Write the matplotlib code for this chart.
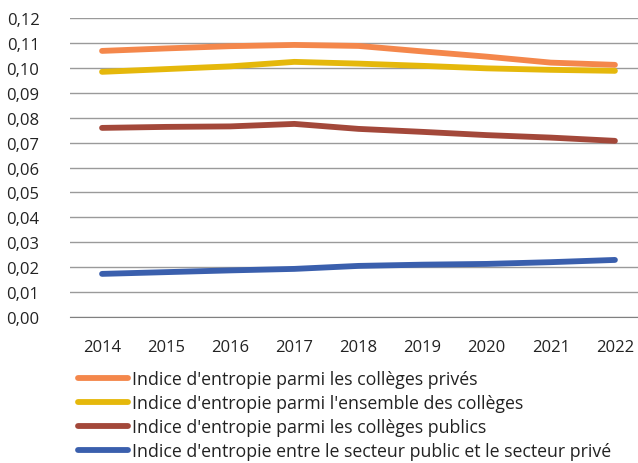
import matplotlib
matplotlib.use("Agg")
import matplotlib.pyplot as plt
from matplotlib.ticker import FuncFormatter

plt.rcParams['font.family'] = ['Open Sans', 'DejaVu Sans']

annees = [2014, 2015, 2016, 2017, 2018, 2019, 2020, 2021, 2022]
prives = [0.1068, 0.1078, 0.1087, 0.1092, 0.1088, 0.1066, 0.1045, 0.1021, 0.1012]
ensemble = [0.0984, 0.0995, 0.1006, 0.1024, 0.1017, 0.1008, 0.0998, 0.0992, 0.0988]
publics = [0.0759, 0.0763, 0.0765, 0.0775, 0.0755, 0.0743, 0.0730, 0.0720, 0.0707]
public_prive = [0.0173, 0.0180, 0.0187, 0.0193, 0.0205, 0.0210, 0.0213, 0.0220, 0.0229]

labels = ["Indice d'entropie parmi les collèges privés",
          "Indice d'entropie parmi l'ensemble des collèges",
          "Indice d'entropie parmi les collèges publics",
          "Indice d'entropie entre le secteur public et le secteur privé"]
couleurs = ["#F4874B", "#E5B80B", "#A3483A", "#3A5FAD"]

fig = plt.figure(figsize=(6.38, 4.64), dpi=100)
ax = fig.add_axes([0.1097, 0.3147, 0.8903, 0.6443])

for serie, c, lab in zip([prives, ensemble, publics, public_prive], couleurs, labels):
    ax.plot(annees, serie, color=c, lw=4.2, solid_capstyle='round', label=lab, zorder=3)

ax.set_ylim(0, 0.12)
ax.set_xlim(2013.5, 2022.36)
ax.set_yticks([i / 100 for i in range(13)])
ax.set_xticks(annees)
ax.yaxis.set_major_formatter(FuncFormatter(lambda v, p: f"{v:.2f}".replace('.', ',')))
ax.grid(axis='y', color='#9a9a9a', lw=1)
ax.set_axisbelow(True)
for s in ['top', 'right', 'left']:
    ax.spines[s].set_visible(False)
ax.spines['bottom'].set_color('#808080')
ax.tick_params(length=0, labelsize=12, colors='#222222')
ax.tick_params(axis='y', pad=22)
ax.tick_params(axis='x', pad=16)

fig.legend(loc='upper left', bbox_to_anchor=(0.122, 0.2), frameon=False,
           fontsize=12.8, handlelength=2.8, handletextpad=0.25, labelspacing=0.34,
           borderaxespad=0, borderpad=0, labelcolor='#222222')

fig.savefig("out.png", dpi=100)
